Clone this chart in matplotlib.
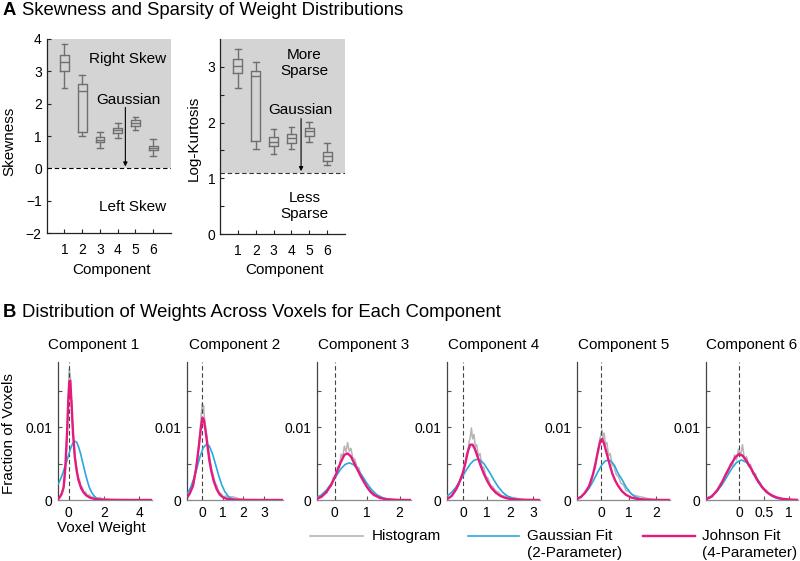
import matplotlib.pyplot as plt
from matplotlib.lines import Line2D
import numpy as np

plt.rcParams['font.family'] = ['Liberation Sans', 'DejaVu Sans']

# ---------------- panel A data (box plot summaries) ----------------
components = [1, 2, 3, 4, 5, 6]

skew_lo = [2.48, 0.99, 0.63, 0.93, 1.17, 0.38]
skew_q1 = [2.99, 1.12, 0.80, 1.08, 1.31, 0.56]
skew_med = [3.28, 2.38, 0.88, 1.19, 1.41, 0.63]
skew_q3 = [3.49, 2.60, 0.97, 1.25, 1.48, 0.70]
skew_hi = [3.84, 2.87, 1.11, 1.41, 1.59, 0.90]

kurt_lo = [2.61, 1.53, 1.44, 1.52, 1.65, 1.24]
kurt_q1 = [2.88, 1.67, 1.58, 1.63, 1.76, 1.32]
kurt_med = [3.02, 2.84, 1.66, 1.72, 1.84, 1.41]
kurt_q3 = [3.14, 2.92, 1.74, 1.79, 1.90, 1.48]
kurt_hi = [3.31, 3.08, 1.89, 1.92, 2.01, 1.63]

gauss_skew = 0.0
gauss_logkurt = 1.1

# ---------------- panel B data (fraction of voxels x 1e-3) ----------------
hist_x = [
    [-0.6, -0.5, -0.4, -0.32, -0.25, -0.2, -0.15, -0.1, -0.06, -0.03, 0.0, 0.03, 0.06, 0.09, 0.12, 0.16, 0.2,
     0.25, 0.3, 0.35, 0.4, 0.46, 0.52, 0.6, 0.68, 0.76, 0.85, 0.95, 1.05, 1.15, 1.3, 1.45, 1.6, 1.75, 1.9,
     2.1, 2.4, 3.0, 4.7],
    [-0.7, -0.6, -0.5, -0.4, -0.3, -0.22, -0.15, -0.1, -0.05, -0.02, 0.01, 0.04, 0.07, 0.1, 0.14, 0.18, 0.23,
     0.28, 0.34, 0.4, 0.47, 0.55, 0.63, 0.72, 0.82, 0.92, 1.02, 1.15, 1.3, 1.45, 1.6, 1.8, 2.1, 2.6, 3.9],
    [-0.55, -0.47, -0.4, -0.32, -0.25, -0.18, -0.11, -0.04, 0.03, 0.09, 0.15, 0.2, 0.25, 0.3, 0.35, 0.4, 0.45,
     0.5, 0.56, 0.62, 0.68, 0.75, 0.82, 0.9, 0.98, 1.06, 1.15, 1.25, 1.35, 1.45, 1.6, 1.75, 1.95, 2.35],
    [-0.7, -0.6, -0.5, -0.4, -0.3, -0.2, -0.12, -0.05, 0.02, 0.08, 0.14, 0.2, 0.25, 0.3, 0.35, 0.4, 0.46,
     0.52, 0.58, 0.65, 0.72, 0.8, 0.88, 0.97, 1.06, 1.16, 1.27, 1.38, 1.5, 1.65, 1.8, 2.0, 2.2, 2.45, 2.7, 3.3],
    [-0.9, -0.8, -0.7, -0.6, -0.5, -0.42, -0.35, -0.28, -0.22, -0.16, -0.11, -0.06, -0.02, 0.02, 0.06, 0.1,
     0.15, 0.2, 0.26, 0.32, 0.39, 0.46, 0.54, 0.62, 0.71, 0.8, 0.9, 1.0, 1.12, 1.25, 1.4, 1.55, 1.75, 2.0, 2.5],
    [-0.65, -0.59, -0.53, -0.47, -0.42, -0.37, -0.32, -0.27, -0.22, -0.17, -0.13, -0.09, -0.05, -0.01, 0.03,
     0.07, 0.11, 0.15, 0.19, 0.23, 0.28, 0.33, 0.38, 0.43, 0.48, 0.54, 0.6, 0.66, 0.73, 0.8, 0.9, 1.0, 1.2],
]
hist_y = [
    [0.1, 0.4, 0.8, 1.6, 2.5, 4.6, 6.2, 9.8, 12.5, 14.6, 17.2, 18.0, 17.4, 16.8, 14.1, 13.6, 10.2, 9.1, 6.6,
     6.1, 4.5, 4.3, 3.0, 2.8, 1.7, 1.8, 1.0, 1.1, 0.6, 0.7, 0.35, 0.45, 0.2, 0.35, 0.15, 0.1, 0.05, 0.02, 0.0],
    [0.4, 0.8, 1.7, 2.3, 4.4, 5.5, 8.2, 9.3, 11.6, 12.5, 13.2, 12.4, 12.9, 11.5, 10.8, 9.4, 8.9, 7.3, 6.4,
     5.2, 4.1, 3.3, 2.4, 1.9, 1.0, 0.9, 0.45, 0.55, 0.3, 0.45, 0.35, 0.15, 0.05, 0.0, 0.0],
    [0.1, 0.35, 0.4, 0.9, 0.9, 1.8, 1.9, 3.1, 3.0, 4.6, 4.5, 6.3, 5.9, 7.4, 6.6, 7.9, 6.7, 7.1, 5.8, 5.6,
     4.6, 4.4, 3.1, 2.9, 1.9, 1.6, 1.1, 0.8, 0.5, 0.35, 0.15, 0.1, 0.03, 0.0],
    [0.1, 0.25, 0.6, 0.9, 1.6, 2.0, 2.8, 3.2, 4.4, 4.8, 6.3, 6.8, 8.0, 8.6, 9.9, 8.4, 9.0, 7.3, 7.6, 6.0,
     6.4, 4.6, 4.5, 3.3, 3.0, 2.1, 1.8, 1.3, 1.1, 0.6, 0.55, 0.3, 0.35, 0.1, 0.05, 0.0],
    [0.1, 0.3, 0.5, 1.1, 1.4, 2.2, 2.6, 4.0, 4.4, 6.3, 6.6, 8.4, 8.9, 9.6, 8.5, 9.2, 7.6, 7.9, 6.1, 6.4,
     4.8, 4.6, 3.5, 3.2, 2.3, 2.1, 1.3, 1.2, 0.7, 0.6, 0.45, 0.35, 0.15, 0.05, 0.0],
    [0.1, 0.3, 0.45, 1.2, 1.3, 2.3, 2.5, 3.6, 3.7, 5.0, 4.6, 6.2, 5.5, 7.0, 6.1, 7.6, 5.5, 6.0, 4.6, 4.9,
     3.5, 3.6, 2.4, 2.3, 1.5, 1.4, 0.9, 0.7, 0.45, 0.3, 0.15, 0.05, 0.0],
]

gauss_x = [
    [-0.6, -0.45, -0.3, -0.15, 0.0, 0.1, 0.2, 0.33, 0.45, 0.55, 0.65, 0.75, 0.85, 0.95, 1.05, 1.15, 1.3,
     1.45, 1.6, 1.8, 2.1, 2.6, 4.7],
    [-0.7, -0.55, -0.4, -0.25, -0.1, 0.05, 0.22, 0.35, 0.5, 0.65, 0.8, 0.95, 1.1, 1.25, 1.4, 1.6, 1.9, 2.3, 3.9],
    [-0.55, -0.4, -0.25, -0.1, 0.05, 0.2, 0.33, 0.45, 0.57, 0.7, 0.85, 1.0, 1.15, 1.3, 1.5, 1.7, 2.0, 2.35],
    [-0.7, -0.5, -0.3, -0.1, 0.1, 0.3, 0.45, 0.6, 0.75, 0.9, 1.1, 1.3, 1.5, 1.7, 1.9, 2.2, 2.6, 3.3],
    [-0.9, -0.75, -0.6, -0.45, -0.3, -0.15, 0.0, 0.12, 0.24, 0.36, 0.48, 0.6, 0.75, 0.9, 1.05, 1.2, 1.4,
     1.6, 1.9, 2.5],
    [-0.65, -0.55, -0.45, -0.35, -0.25, -0.15, -0.05, 0.05, 0.15, 0.25, 0.35, 0.45, 0.55, 0.65, 0.75, 0.9, 1.2],
]
gauss_y = [
    [2.2, 3.0, 4.0, 5.1, 6.3, 7.1, 7.7, 8.1, 7.9, 7.3, 6.5, 5.5, 4.5, 3.5, 2.6, 1.8, 1.0, 0.5, 0.22, 0.07,
     0.01, 0.0, 0.0],
    [0.95, 1.78, 2.98, 4.47, 5.98, 7.17, 7.7, 7.39, 6.34, 4.88, 3.36, 2.06, 1.14, 0.56, 0.25, 0.07, 0.01, 0.0, 0.0],
    [0.34, 0.72, 1.36, 2.25, 3.31, 4.31, 4.9, 5.1, 4.9, 4.31, 3.31, 2.25, 1.36, 0.72, 0.26, 0.08, 0.01, 0.0],
    [0.54, 1.04, 1.82, 2.84, 3.96, 4.94, 5.43, 5.6, 5.43, 4.94, 3.96, 2.84, 1.82, 1.04, 0.54, 0.16, 0.02, 0.0],
    [0.19, 0.44, 0.89, 1.61, 2.59, 3.71, 4.74, 5.3, 5.5, 5.3, 4.74, 3.71, 2.81, 1.78, 1.01, 0.51, 0.17,
     0.05, 0.0, 0.0],
    [0.24, 0.56, 1.12, 1.98, 3.1, 4.26, 5.16, 5.5, 5.16, 4.26, 3.1, 1.98, 1.12, 0.56, 0.24, 0.06, 0.0],
]

john_x = [
    [-0.6, -0.5, -0.4, -0.3, -0.2, -0.1, -0.03, 0.03, 0.08, 0.15, 0.24, 0.34, 0.45, 0.55, 0.7, 0.85, 1.0,
     1.2, 1.5, 1.9, 2.5, 3.5, 4.7],
    [-0.7, -0.6, -0.45, -0.3, -0.15, -0.05, 0.02, 0.08, 0.15, 0.25, 0.35, 0.45, 0.55, 0.7, 0.85, 1.0, 1.2,
     1.5, 2.0, 3.0, 3.9],
    [-0.55, -0.4, -0.25, -0.1, 0.05, 0.18, 0.3, 0.4, 0.5, 0.6, 0.7, 0.8, 0.9, 1.0, 1.1, 1.2, 1.4, 1.6, 1.8,
     2.1, 2.35],
    [-0.7, -0.5, -0.3, -0.15, 0.0, 0.1, 0.2, 0.3, 0.4, 0.5, 0.6, 0.75, 0.9, 1.05, 1.2, 1.4, 1.6, 1.8, 2.0,
     2.3, 2.7, 3.3],
    [-0.9, -0.75, -0.6, -0.45, -0.3, -0.2, -0.1, -0.03, 0.03, 0.1, 0.2, 0.3, 0.4, 0.5, 0.6, 0.75, 0.9, 1.1,
     1.3, 1.6, 2.0, 2.5],
    [-0.65, -0.55, -0.45, -0.35, -0.25, -0.15, -0.07, 0.0, 0.07, 0.15, 0.25, 0.35, 0.45, 0.55, 0.65, 0.75,
     0.85, 1.0, 1.2],
]
john_y = [
    [0.14, 0.45, 0.9, 1.7, 4.5, 9.4, 13.8, 16.3, 16.4, 13.3, 9.0, 5.9, 3.9, 2.7, 1.6, 1.0, 0.6, 0.32, 0.12,
     0.05, 0.02, 0.0, 0.0],
    [0.45, 0.9, 1.9, 4.2, 7.6, 10.2, 11.3, 11.0, 9.8, 7.6, 5.4, 3.9, 2.7, 1.5, 0.75, 0.38, 0.15, 0.05, 0.01,
     0.0, 0.0],
    [0.15, 0.45, 1.1, 2.1, 3.6, 5.1, 6.2, 6.4, 6.0, 5.1, 4.2, 3.3, 2.5, 1.75, 1.15, 0.72, 0.27, 0.09, 0.03,
     0.0, 0.0],
    [0.15, 0.55, 1.5, 2.6, 3.9, 5.2, 6.7, 7.6, 7.6, 7.0, 6.1, 4.7, 3.5, 2.5, 1.7, 1.0, 0.55, 0.3, 0.15,
     0.06, 0.02, 0.0],
    [0.14, 0.4, 1.0, 1.9, 3.6, 5.3, 7.2, 8.2, 8.4, 7.7, 6.3, 4.9, 3.6, 2.7, 2.0, 1.2, 0.7, 0.32, 0.15,
     0.05, 0.01, 0.0],
    [0.14, 0.45, 1.2, 2.3, 3.7, 5.0, 5.9, 6.3, 6.1, 5.4, 4.2, 2.9, 1.85, 1.1, 0.65, 0.35, 0.18, 0.06, 0.01],
]

x_limits = [(-0.6, 4.7), (-0.72, 3.9), (-0.55, 2.35), (-0.7, 3.3), (-0.9, 2.5), (-0.66, 1.18)]
x_ticks = [[0, 2, 4], [0, 1, 2, 3], [0, 1, 2], [0, 1, 2, 3], [0, 1, 2], [0, 0.5, 1]]
x_ticklabels = [['0', '2', '4'], ['0', '1', '2', '3'], ['0', '1', '2'], ['0', '1', '2', '3'],
                ['0', '1', '2'], ['0', '0.5', '1']]

# colours
shade = '#d4d4d4'
box_col = '#6f6f6f'
hist_col = '#b5b5b5'
gauss_col = '#29a8df'
john_col = '#e5197e'

fs_tick = 10
fs_lab = 11
fs_title = 13.3

fig = plt.figure(figsize=(8, 5.61), dpi=100)
W, H = 800.0, 561.0


def fig_rect(left, top, right, bottom):
    return [left / W, 1 - bottom / H, (right - left) / W, (bottom - top) / H]


def box_stats(lo, q1, med, q3, hi):
    return [dict(whislo=a, q1=b, med=c, q3=d, whishi=e, fliers=[])
            for a, b, c, d, e in zip(lo, q1, med, q3, hi)]


def style_a(ax):
    for s in ['top', 'right']:
        ax.spines[s].set_visible(False)
    for s in ['left', 'bottom']:
        ax.spines[s].set_color('#222222')
        ax.spines[s].set_linewidth(0.9)
    ax.tick_params(direction='in', length=3, width=0.8, labelsize=fs_tick, color='#222222')
    ax.tick_params(axis='x', pad=7)
    ax.tick_params(axis='y', pad=3.5)
    ax.set_xlim(0, 7)
    ax.set_xticks(components)


def draw_boxes(ax, stats):
    ax.bxp(stats, positions=components, widths=0.5, capwidths=0.32, showfliers=False,
           boxprops=dict(color=box_col, lw=1), whiskerprops=dict(color=box_col, lw=1),
           capprops=dict(color=box_col, lw=1), medianprops=dict(color=box_col, lw=1),
           manage_ticks=False, zorder=3)


arrow_kw = dict(arrowstyle='-|>', lw=0.8, color='black', mutation_scale=6, shrinkA=0, shrinkB=0)

# ---- skewness ----
ax1 = fig.add_axes(fig_rect(46.7, 38.7, 171, 233.3))
style_a(ax1)
ax1.set_ylim(-2, 4)
ax1.set_yticks([-2, -1, 0, 1, 2, 3, 4])
ax1.set_yticklabels(['\u22122', '\u22121', '0', '1', '2', '3', '4'])
ax1.axhspan(gauss_skew, 4, color=shade, zorder=0, lw=0)
ax1.axhline(gauss_skew, color='black', lw=0.8, ls=(0, (4, 2.5)), zorder=2)
draw_boxes(ax1, box_stats(skew_lo, skew_q1, skew_med, skew_q3, skew_hi))
ax1.text(4.55, 3.37, 'Right Skew', ha='center', va='center', fontsize=fs_lab)
ax1.text(4.6, 2.11, 'Gaussian', ha='center', va='center', fontsize=fs_lab)
ax1.text(4.84, -1.18, 'Left Skew', ha='center', va='center', fontsize=fs_lab)
ax1.annotate('', xy=(4.43, 0.06), xytext=(4.43, 1.88), arrowprops=arrow_kw)

# ---- log-kurtosis ----
ax2 = fig.add_axes(fig_rect(220, 38.7, 345, 234.3))
style_a(ax2)
ax2.set_ylim(0, 3.5)
ax2.set_yticks([0, 0.5, 1, 1.5, 2, 2.5, 3])
ax2.set_yticklabels(['0', '', '1', '', '2', '', '3'])
ax2.axhspan(gauss_logkurt, 3.5, color=shade, zorder=0, lw=0)
ax2.axhline(gauss_logkurt, color='#333333', lw=0.8, ls=(0, (4, 2.5)), zorder=2)
draw_boxes(ax2, box_stats(kurt_lo, kurt_q1, kurt_med, kurt_q3, kurt_hi))
ax2.text(4.71, 3.07, 'More\nSparse', ha='center', va='center', fontsize=fs_lab, linespacing=1.2)
ax2.text(4.49, 2.23, 'Gaussian', ha='center', va='center', fontsize=fs_lab)
ax2.text(4.73, 0.50, 'Less\nSparse', ha='center', va='center', fontsize=fs_lab, linespacing=1.2)
ax2.annotate('', xy=(4.54, 1.13), xytext=(4.54, 2.07), arrowprops=arrow_kw)

fig.text(9 / W, 1 - 141 / H, 'Skewness', rotation=90, ha='center', va='center', fontsize=fs_lab)
fig.text(194 / W, 1 - 138 / H, 'Log-Kurtosis', rotation=90, ha='center', va='center', fontsize=fs_lab)
fig.text(111 / W, 1 - 274 / H, 'Component', ha='center', va='baseline', fontsize=fs_lab)
fig.text(285 / W, 1 - 274 / H, 'Component', ha='center', va='baseline', fontsize=fs_lab)

fig.text(3 / W, 1 - 15 / H, 'A', fontsize=fs_title, fontweight='bold', va='baseline')
fig.text(22 / W, 1 - 15 / H, 'Skewness and Sparsity of Weight Distributions', fontsize=fs_title,
         va='baseline')

# ---------------- panel B ----------------
lefts = [58.3, 187.3, 316.7, 447, 576.7, 706]
rights = [151.7, 282.7, 411, 540, 670, 798]

for k in range(6):
    ax = fig.add_axes(fig_rect(lefts[k], 361.7, rights[k], 500))
    ax.plot(hist_x[k], np.array(hist_y[k]) / 1000, color=hist_col, lw=1.1, zorder=2)
    ax.axvline(0, color='#444444', lw=0.8, ls=(0, (4, 2.5)), zorder=3)
    ax.plot(gauss_x[k], np.array(gauss_y[k]) / 1000, color=gauss_col, lw=1.2, zorder=4)
    ax.plot(john_x[k], np.array(john_y[k]) / 1000, color=john_col, lw=1.7, zorder=5)
    ax.set_xlim(*x_limits[k])
    ax.set_ylim(0, 0.019)
    ax.set_xticks(x_ticks[k])
    ax.set_xticklabels(x_ticklabels[k])
    ax.set_yticks([0, 0.005, 0.01, 0.015])
    ax.set_yticklabels(['0', '', '0.01', ''])
    for s in ['top', 'right']:
        ax.spines[s].set_visible(False)
    ax.spines['left'].set_color('#444444')
    ax.spines['left'].set_linewidth(0.9)
    ax.spines['bottom'].set_color('#8a8a8a')
    ax.spines['bottom'].set_linewidth(0.9)
    ax.tick_params(direction='in', length=3, width=0.8, labelsize=fs_tick, color='#555555')
    ax.tick_params(axis='x', pad=4.5)
    ax.tick_params(axis='y', pad=4)
    ax.set_title('Component %d' % (k + 1), fontsize=fs_lab, pad=9, x=0.38 if k == 0 else 0.5)

fig.text(9 / W, 1 - 434 / H, 'Fraction of Voxels', rotation=90, ha='center', va='center', fontsize=fs_lab)
fig.text(101.7 / W, 1 - 532 / H, 'Voxel Weight', ha='center', va='baseline', fontsize=fs_lab)

fig.text(3 / W, 1 - 317.3 / H, 'B', fontsize=fs_title, fontweight='bold', va='baseline')
fig.text(22 / W, 1 - 317.3 / H, 'Distribution of Weights Across Voxels for Each Component',
         fontsize=fs_title, va='baseline')

# legend drawn by hand
leg_y = 1 - 535.7 / H
for x0, x1, col, lw, tx, ty, label in [
        (310, 363, hist_col, 1.2, 371.7, 535.7, 'Histogram'),
        (468, 519, gauss_col, 1.2, 526.7, 544.5, 'Gaussian Fit\n(2-Parameter)'),
        (642.7, 695, john_col, 1.7, 701.7, 544.5, 'Johnson Fit\n(4-Parameter)')]:
    fig.add_artist(Line2D([x0 / W, x1 / W], [leg_y, leg_y], color=col, lw=lw))
    fig.text(tx / W, 1 - ty / H, label, fontsize=fs_lab, ha='left', va='center', linespacing=1.2)

fig.savefig('out.png', dpi=100)
